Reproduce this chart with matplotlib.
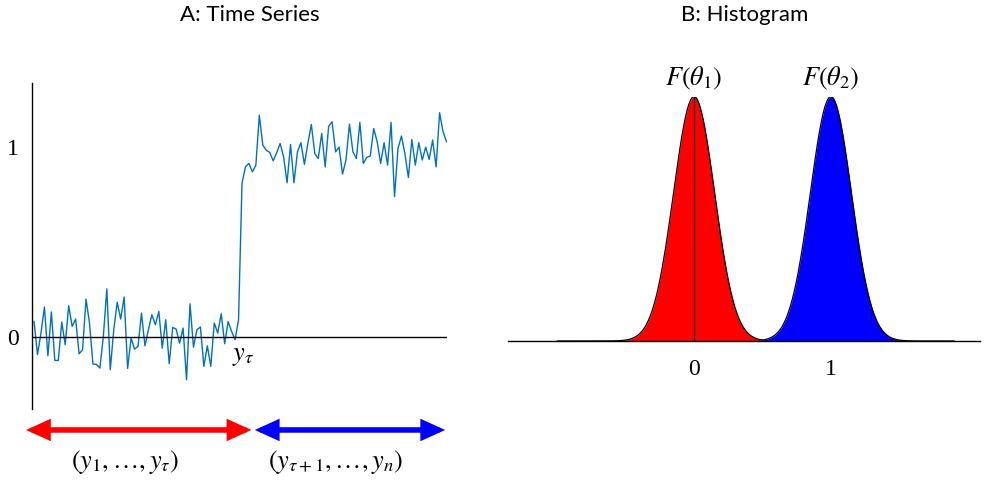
import numpy as np
import matplotlib
matplotlib.use('Agg')
import matplotlib.pyplot as plt

plt.rcParams['mathtext.fontset'] = 'stix'

# time series (120 points, change after tau)
series = [
    0.082, -0.093, 0.021, 0.158, -0.098, 0.132, -0.123, -0.123, 0.079, -0.040,
    0.165, 0.056, 0.095, -0.088, -0.067, 0.200, 0.074, -0.142, -0.144, -0.163,
    0.004, 0.254, -0.172, 0.039, 0.184, 0.095, 0.211, -0.165, -0.005, -0.063,
    -0.049, 0.126, -0.046, 0.039, 0.118, 0.065, 0.135, -0.058, 0.091, -0.140,
    0.051, 0.042, -0.032, 0.047, -0.225, 0.175, -0.053, 0.039, 0.053, -0.154,
    -0.046, -0.154, 0.074, 0.021, 0.123, -0.035, 0.082, 0.030, -0.014, 0.091,
    0.810, 0.896, 0.914, 0.870, 0.905, 1.168, 1.011, 0.984, 0.972, 0.928,
    0.970, 1.019, 0.949, 0.812, 1.014, 0.812, 0.975, 1.023, 0.909, 1.019,
    1.119, 0.966, 0.940, 1.072, 0.896, 1.110, 1.133, 0.975, 1.000, 0.858,
    0.932, 1.121, 0.975, 0.940, 1.130, 0.914, 0.946, 0.953, 1.098, 1.028,
    0.914, 1.023, 0.905, 1.130, 0.739, 0.993, 1.058, 0.966, 0.840, 1.040,
    0.905, 1.023, 0.932, 1.000, 0.935, 1.037, 0.896, 1.181, 1.081, 1.028,
]
tau = 59
seg_labels = [r'$(y_1, \ldots, y_\tau)$', r'$(y_{\tau+1}, \ldots, y_n)$']
seg_colors = ['#FF0000', '#0000FF']

# histogram panel: two normal densities
means = [0, 1]
sd = 0.15
dens_labels = [r'$F(\theta_1)$', r'$F(\theta_2)$']
dens_ticks = [0, 1]

tick_font = dict(family='Liberation Serif', size=17)
math_size = 19

fig = plt.figure(figsize=(9.98, 4.83), dpi=100)

# ---- A: time series
ax1 = fig.add_axes([0.0316, 0.153, 0.4158, 0.675])
idx = np.arange(len(series))
ax1.plot(idx, series, color='#0070C0', lw=1)
ax1.axhline(0, color='black', lw=1)
ax1.set_xlim(-0.72, 119)
ax1.set_ylim(-0.379, 1.337)
for s in ['top', 'right', 'bottom']:
    ax1.spines[s].set_visible(False)
ax1.spines['left'].set_linewidth(1)
ax1.set_xticks([])
ax1.set_yticks([0, 1])
ax1.set_yticklabels(['0', '1'], fontdict=tick_font)
ax1.tick_params(axis='y', length=0, pad=9)
ax1.text(tau - 2, -0.095, r'$y_\tau$', fontsize=math_size, va='center', ha='left')

# double arrows for the two segments
split = 63.2
spans = [(-2.3, split - 0.5), (split + 0.5, 118.6)]
for (a, b), col, lab in zip(spans, seg_colors, seg_labels):
    ax1.annotate('', xy=(b, -0.064), xytext=(a, -0.064),
                 xycoords=('data', 'axes fraction'),
                 arrowprops=dict(arrowstyle='<|-|>,head_length=1.1,head_width=0.5',
                                 color=col, lw=4, shrinkA=0, shrinkB=0,
                                 mutation_scale=10, joinstyle='miter'),
                 annotation_clip=False)
    ax1.text((a + b) / 2 - 4, -0.163, lab, fontsize=math_size, ha='center', va='center',
             transform=ax1.get_xaxis_transform())

fig.text(250 / 998, 1 - 15 / 483, 'A: Time Series', ha='center', va='center',
         fontsize=16, family='Lato')

# ---- B: histogram
ax2 = fig.add_axes([0.509, 0.294, 0.473, 0.506])
x = np.linspace(-1, 1.9, 600)
peak = 1 / (np.sqrt(2 * np.pi) * sd)
cross = (means[0] + means[1]) / 2
for i, (m, col, lab) in enumerate(zip(means, seg_colors, dens_labels)):
    pdf = np.exp(-0.5 * ((x - m) / sd) ** 2) / (np.sqrt(2 * np.pi) * sd)
    mask = x <= cross + 0.005 if i == 0 else x >= cross - 0.005
    ax2.fill_between(x[mask], 0, pdf[mask], color=col, lw=0, zorder=2 + i)
    ax2.plot(x[mask], pdf[mask], color='black', lw=0.9, zorder=3 + i)
    ax2.text(m, peak * 1.02, lab, fontsize=math_size, ha='center', va='bottom')
ax2.plot([means[0], means[0]], [0, peak], color='black', lw=0.8, zorder=5)
ax2.set_xlim(-1.36, 2.09)
ax2.set_ylim(0, peak)
for s in ['top', 'right', 'left']:
    ax2.spines[s].set_visible(False)
ax2.spines['bottom'].set_linewidth(1)
ax2.spines['bottom'].set_zorder(6)
ax2.set_yticks([])
ax2.set_xticks(dens_ticks)
ax2.set_xticklabels([str(t) for t in dens_ticks], fontdict=tick_font)
ax2.tick_params(axis='x', length=0, pad=13)

fig.text(745 / 998, 1 - 15 / 483, 'B: Histogram', ha='center', va='center',
         fontsize=16, family='Lato')

fig.savefig('out.png', dpi=100)
